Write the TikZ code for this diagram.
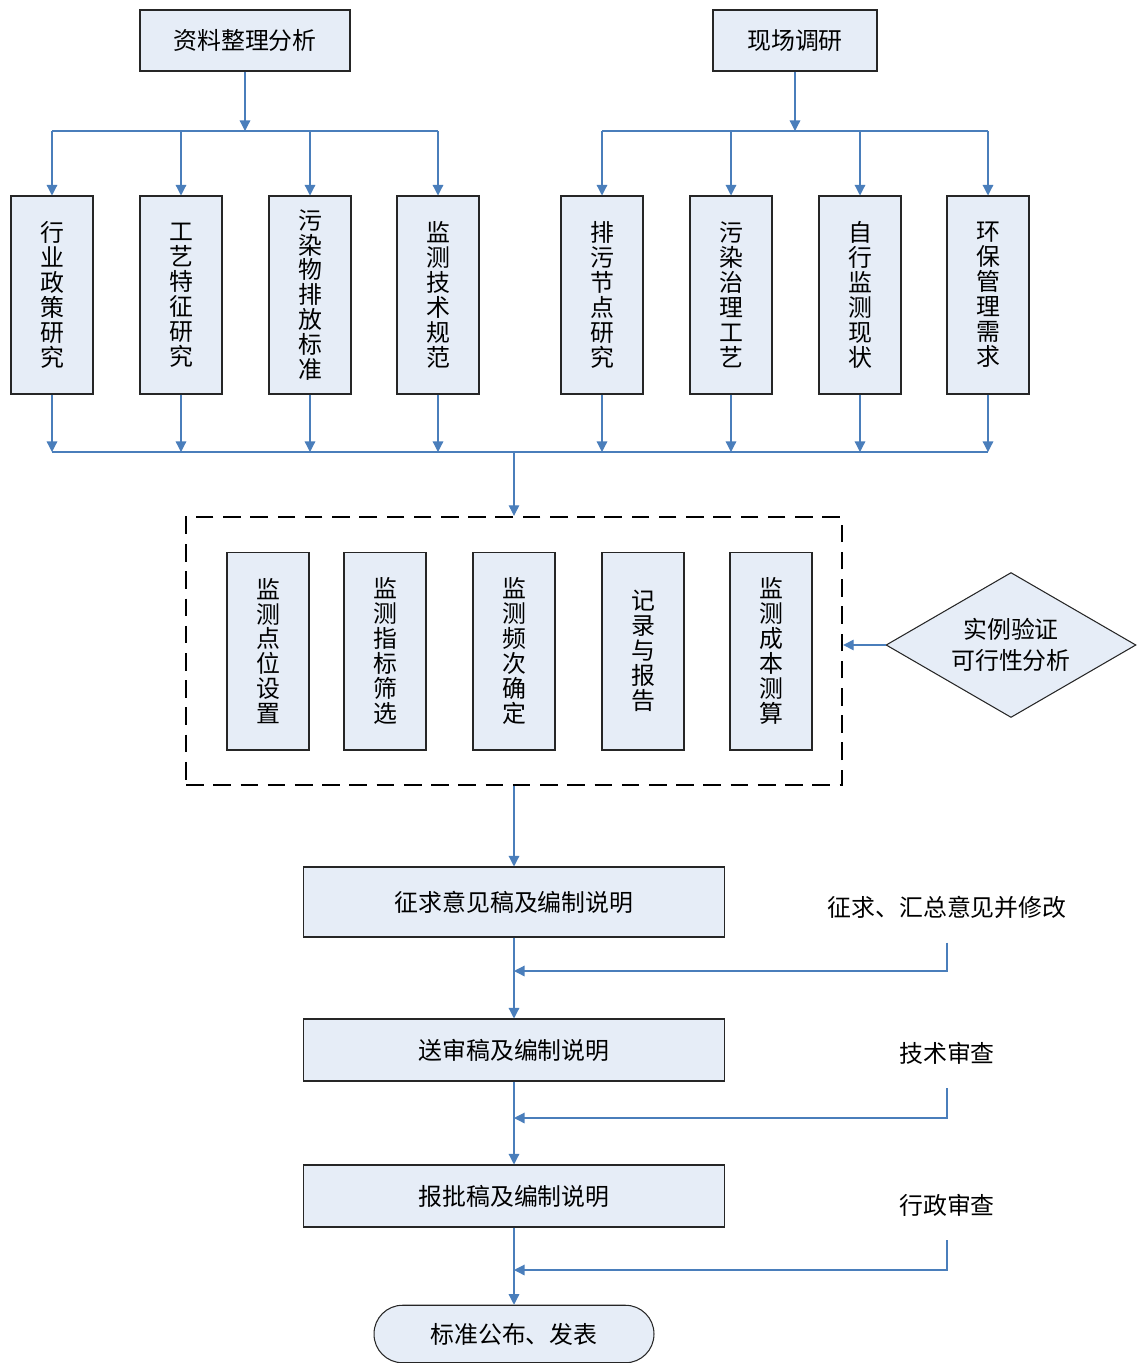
\documentclass[tikz,border=0pt]{standalone}
\usepackage{fontspec}
\newfontfamily\cjk{Noto Sans CJK SC}
\usetikzlibrary{arrows.meta,shapes.geometric}
\definecolor{kuangse}{HTML}{E6EDF7}
\definecolor{xianse}{HTML}{4A7EBB}
\tikzset{
	kuang/.style={draw=black!85, line width=0.6pt, fill=kuangse, inner sep=0pt, align=center, font=\cjk\fontsize{13.6}{14.2}\selectfont},
	shu/.style={kuang, minimum width=1.64cm, minimum height=3.96cm},
	heng/.style={kuang, minimum width=8.44cm},
	wenzi/.style={inner sep=0pt, font=\cjk\fontsize{13.6}{14.2}\selectfont},
	xian/.style={xianse, line width=0.7pt},
	jian/.style={xian, -{Triangle[width=6pt,length=6pt]}}
}

\begin{document}
\begin{tikzpicture}[x=0.02cm, y=-0.02cm]
		%%%%% START %%%%%
		\useasboundingbox (0,0) rectangle (1137,1363);
		
		\node[kuang, minimum width=4.2cm, minimum height=1.22cm] (zlfx) at (245,40.5) {资料整理分析};
		\node[kuang, minimum width=3.28cm, minimum height=1.22cm] (xcdy) at (795,40.5) {现场调研};
		
		\node[shu] (hyzc) at (52,295) {行\\业\\政\\策\\研\\究};
		\node[shu] (gytz) at (181,295) {工\\艺\\特\\征\\研\\究};
		\node[shu] (wrpf) at (310,295) {污\\染\\物\\排\\放\\标\\准};
		\node[shu] (jcjs) at (438,295) {监\\测\\技\\术\\规\\范};
		\node[shu] (pwjd) at (602,295) {排\\污\\节\\点\\研\\究};
		\node[shu] (wrzl) at (731,295) {污\\染\\治\\理\\工\\艺};
		\node[shu] (zxjc) at (860,295) {自\\行\\监\\测\\现\\状};
		\node[shu] (hbgl) at (988,295) {环\\保\\管\\理\\需\\求};
		
		\coordinate (fz1) at (245,131);
		\coordinate (fz2) at (795,131);
		\coordinate (hz) at (514,452);
		
		\draw[jian] (zlfx) -- (fz1);
		\draw[xian] (hyzc.north |- fz1) -- (jcjs.north |- fz1);
		\foreach \n in {hyzc,gytz,wrpf,jcjs}
			\draw[jian] (\n.north |- fz1) -- (\n);
		
		\draw[jian] (xcdy) -- (fz2);
		\draw[xian] (pwjd.north |- fz2) -- (hbgl.north |- fz2);
		\foreach \n in {pwjd,wrzl,zxjc,hbgl}
			\draw[jian] (\n.north |- fz2) -- (\n);
		
		\foreach \n in {hyzc,gytz,wrpf,jcjs,pwjd,wrzl,zxjc,hbgl}
			\draw[jian] (\n) -- (\n.south |- hz);
		\draw[xian] (hyzc.south |- hz) -- (hbgl.south |- hz);
		
		% dashed frame with the five steps
		\node[draw, line width=1.4pt, dash pattern=on 10pt off 5.5pt, minimum width=13.12cm, minimum height=5.36cm, inner sep=0pt] (jc) at (514,651) {};
		\draw[jian] (hz) -- (jc.north);
		
		\node[shu] (jcdw) at (268,651) {监\\测\\点\\位\\设\\置};
		\node[shu] (jczb) at (385,651) {监\\测\\指\\标\\筛\\选};
		\node[shu] (jcpc) at (514,651) {监\\测\\频\\次\\确\\定};
		\node[shu] (jlbg) at (643,651) {记\\录\\与\\报\\告};
		\node[shu] (jccb) at (771,651) {监\\测\\成\\本\\测\\算};
		
		\node[kuang, diamond, aspect=1.72, minimum width=5cm, minimum height=2.9cm, font=\cjk\fontsize{13.6}{18}\selectfont] (slyz) at (1011,645) {实例验证\\可行性分析};
		\draw[jian] (slyz.west) -- (slyz.west -| jc.east);
		
		% drafts and reviews
		\node[heng, minimum height=1.4cm] (zqyj) at (514,902) {征求意见稿及编制说明};
		\node[heng, minimum height=1.24cm] (sskg) at (514,1050) {送审稿及编制说明};
		\node[heng, minimum height=1.24cm] (bpgg) at (514,1196) {报批稿及编制说明};
		\node[kuang, rounded corners=0.57cm, minimum width=5.6cm, minimum height=1.15cm] (bzgb) at (514,1334) {标准公布、发表};
		
		\draw[jian] (jc.south) -- (zqyj);
		\draw[jian] (zqyj) -- (sskg);
		\draw[jian] (sskg) -- (bpgg);
		\draw[jian] (bpgg) -- (bzgb);
		
		\node[wenzi] (yj1) at (947,907) {征求、汇总意见并修改};
		\node[wenzi] (yj2) at (947,1053) {技术审查};
		\node[wenzi] (yj3) at (947,1205) {行政审查};
		
		\coordinate (hk1) at (514,971);
		\coordinate (hk2) at (514,1118);
		\coordinate (hk3) at (514,1270);
		
		\draw[jian] ([yshift=-0.48cm]yj1.south) |- (hk1);
		\draw[jian] ([yshift=-0.48cm]yj2.south) |- (hk2);
		\draw[jian] ([yshift=-0.48cm]yj3.south) |- (hk3);
		
		%%%%% END %%%%%
\end{tikzpicture}
\end{document}
